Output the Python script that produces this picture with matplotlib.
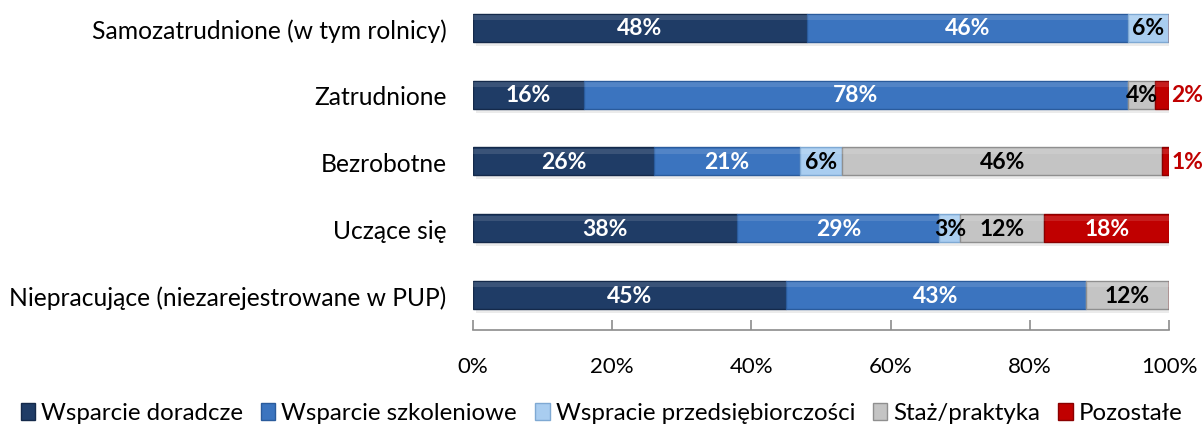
import numpy as np
import matplotlib
matplotlib.use('Agg')
import matplotlib.pyplot as plt

plt.rcParams['font.family'] = ['Lato', 'DejaVu Sans']

# respondent groups, top to bottom
groups = ['Samozatrudnione (w tym rolnicy)', 'Zatrudnione', 'Bezrobotne',
          'Uczące się', 'Niepracujące (niezarejestrowane w PUP)']

series = ['Wsparcie doradcze', 'Wsparcie szkoleniowe',
          'Wspracie przedsiębiorczości', 'Staż/praktyka', 'Pozostałe']

# shares in percent, one list per series (same order as groups)
doradcze = [48, 16, 26, 38, 45]
szkoleniowe = [46, 78, 21, 29, 43]
przedsiebiorczosc = [6, 0, 6, 3, 0]
staz = [0, 4, 46, 12, 12]
pozostale = [0, 2, 1, 18, 0]

values = [doradcze, szkoleniowe, przedsiebiorczosc, staz, pozostale]
colors = ['#1f3c66', '#3b74bf', '#a9cdf0', '#c4c4c4', '#c00000']
edges = ['#14294a', '#2a5b9c', '#7fa9d3', '#8f8f8f', '#8a0000']
text_colors = ['white', 'white', 'black', 'black', 'white']

fig = plt.figure(figsize=(12.03, 4.31), dpi=100)
ax = fig.add_axes([0.393, 0.232, 0.579, 0.766])

y = np.arange(len(groups))
h = 0.42

# soft drop shadow under each full bar
ax.barh(y + 0.06, 100, height=h, left=0.4, color='#000000', alpha=0.08,
        zorder=1)

left = np.zeros(len(groups))
for vals, col, ec, tc, name in zip(values, colors, edges, text_colors, series):
    vals = np.array(vals, dtype=float)
    ax.barh(y, vals, height=h, left=left, color=col, edgecolor=ec,
            linewidth=1.0, label=name, zorder=2)
    # lighter strip on top for a bevelled look
    ax.barh(y - h * 0.36, vals, height=h * 0.18, left=left, color='white',
            alpha=0.12, linewidth=0, zorder=3)
    for i, v in enumerate(vals):
        if v == 0:
            continue
        if v <= 2:
            # tiny segments get their label to the right of the bar
            ax.text(left[i] + v + 0.3, y[i], f'{int(v)}%', ha='left',
                    va='center', color=col, fontsize=16.5, fontweight='bold',
                    zorder=4)
        else:
            ax.text(left[i] + v / 2, y[i], f'{int(v)}%', ha='center',
                    va='center', color=tc, fontsize=16.5, fontweight='bold',
                    zorder=4)
    left += vals

ax.set_xlim(0, 100)
ax.set_ylim(4.524, -0.42)
ax.set_yticks(y)
ax.set_yticklabels(groups, fontsize=17.7)
ax.tick_params(axis='y', length=0, pad=19)
ax.set_xticks([0, 20, 40, 60, 80, 100])
ax.set_xticklabels(['0%', '20%', '40%', '60%', '80%', '100%'], fontsize=16)
ax.tick_params(axis='x', direction='in', length=7, width=1.2,
               color='#8c8c8c', pad=19)

for s in ['top', 'right', 'left']:
    ax.spines[s].set_visible(False)
ax.spines['bottom'].set_color('#8c8c8c')
ax.spines['bottom'].set_linewidth(1.2)

handles, labels = ax.get_legend_handles_labels()
fig.legend(handles, labels, loc='center', bbox_to_anchor=(0.5, 1 - 414 / 431),
           ncol=5, frameon=False, fontsize=17.3, handlelength=0.6,
           handleheight=0.7, handletextpad=0.25, columnspacing=0.75,
           borderaxespad=0)

fig.savefig('out.png', dpi=100)
plt.close(fig)
